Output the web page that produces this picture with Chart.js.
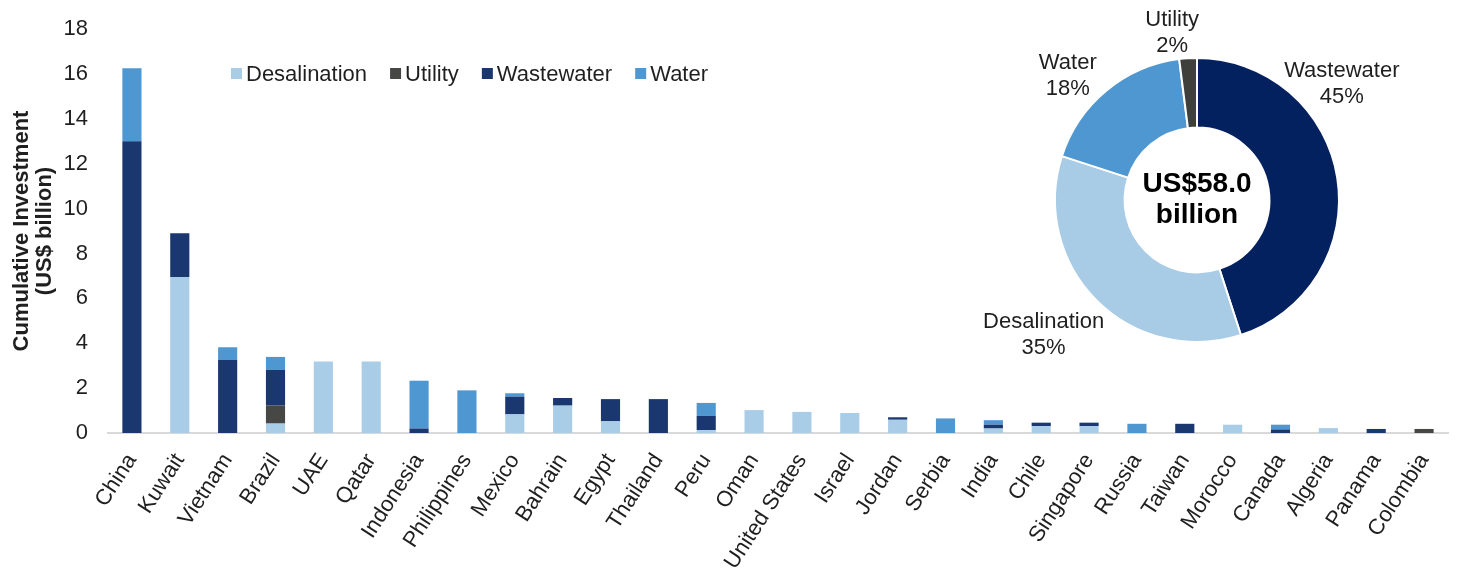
<!DOCTYPE html>
<html>
<head>
<meta charset="utf-8">
<script src="https://cdn.jsdelivr.net/npm/chart.js@4/dist/chart.umd.min.js"></script>
<style>
  html, body { margin: 0; padding: 0; background: #ffffff; }
  #wrap { position: relative; width: 1472px; height: 575px; overflow: hidden; }
  #bars { position: absolute; left: 0; top: 0; }
  #donut { position: absolute; left: 940px; top: 0; }
</style>
</head>
<body>
<div id="wrap">
  <canvas id="bars" width="1472" height="575"></canvas>
  <canvas id="donut" width="532" height="370"></canvas>
</div>
<script>
// Cumulative investment by country, US$ billion
const countries = ['China', 'Kuwait', 'Vietnam', 'Brazil', 'UAE', 'Qatar', 'Indonesia', 'Philippines',
  'Mexico', 'Bahrain', 'Egypt', 'Thailand', 'Peru', 'Oman', 'United States', 'Israel', 'Jordan',
  'Serbia', 'India', 'Chile', 'Singapore', 'Russia', 'Taiwan', 'Morocco', 'Canada', 'Algeria',
  'Panama', 'Colombia'];

const desalination = [0, 6.95, 0, 0.42, 3.19, 3.19, 0, 0, 0.83, 1.22, 0.52, 0, 0.13, 1.02, 0.94, 0.89,
  0.59, 0, 0.2, 0.31, 0.31, 0, 0, 0.37, 0, 0.22, 0, 0];
const utility = [0, 0, 0, 0.8, 0, 0, 0, 0, 0, 0, 0, 0, 0, 0, 0, 0,
  0, 0, 0, 0, 0, 0, 0, 0, 0, 0, 0, 0.18];
const wastewater = [13.0, 1.95, 3.25, 1.59, 0, 0, 0.2, 0, 0.79, 0.34, 0.99, 1.51, 0.63, 0, 0, 0,
  0.11, 0, 0.17, 0.15, 0.15, 0, 0.41, 0, 0.16, 0, 0.18, 0];
const water = [3.25, 0, 0.57, 0.58, 0, 0, 2.13, 1.9, 0.15, 0, 0, 0, 0.58, 0, 0, 0,
  0, 0.65, 0.2, 0, 0, 0.41, 0, 0, 0.21, 0, 0, 0];

const yTicks = [0, 2, 4, 6, 8, 10, 12, 14, 16, 18];

// Share of total investment by segment, percent
const segments = ['Wastewater', 'Desalination', 'Water', 'Utility'];
const segmentShare = [45, 35, 18, 2];
const totalLabel = ['US$58.0', 'billion'];

const FONT = "'Liberation Sans', Arial, sans-serif";
const TEXT = '#1f1f1f';

// Legend row drawn above the bars
const topLegend = {
  id: 'topLegend',
  afterDraw(chart) {
    const ctx = chart.ctx;
    ctx.save();
    ctx.font = '22px ' + FONT;
    ctx.textBaseline = 'middle';
    ctx.textAlign = 'left';
    let x = 231;
    const y = 75;
    chart.data.datasets.forEach(ds => {
      ctx.fillStyle = ds.backgroundColor;
      ctx.fillRect(x, y - 7, 11, 11);
      x += 15;
      ctx.fillStyle = TEXT;
      ctx.fillText(ds.label, x, y);
      x += ctx.measureText(ds.label).width + 23;
    });
    ctx.restore();
  }
};

new Chart(document.getElementById('bars'), {
  type: 'bar',
  data: {
    labels: countries,
    datasets: [
      { label: 'Desalination', data: desalination, backgroundColor: '#A9CCE7' },
      { label: 'Utility', data: utility, backgroundColor: '#474745' },
      { label: 'Wastewater', data: wastewater, backgroundColor: '#1B376F' },
      { label: 'Water', data: water, backgroundColor: '#4F97D1' }
    ]
  },
  options: {
    responsive: false,
    animation: false,
    events: [],
    layout: { padding: { top: 29, right: 24, left: 0, bottom: 0 } },
    datasets: { bar: { barPercentage: 0.4, categoryPercentage: 1, borderWidth: 0 } },
    plugins: { legend: { display: false }, tooltip: { enabled: false } },
    scales: {
      x: {
        stacked: true,
        grid: { display: false },
        border: { display: true, color: '#d9d9d9', width: 2 },
        ticks: {
          color: TEXT, font: { family: FONT, size: 22 },
          minRotation: 57, maxRotation: 57, autoSkip: false, padding: 8
        },
        afterFit(scale) { scale.height = 142; }
      },
      y: {
        stacked: true,
        min: 0, max: 18,
        grid: { display: false },
        border: { display: false },
        afterBuildTicks(scale) { scale.ticks = yTicks.map(v => ({ value: v })); },
        ticks: { color: TEXT, font: { family: FONT, size: 22 }, padding: 12 },
        title: {
          display: true,
          text: ['Cumulative Investment', '(US$ billion)'],
          color: TEXT,
          font: { family: FONT, size: 22, weight: 'bold', lineHeight: 1.05 },
          padding: { top: 10, bottom: 0 }
        },
        afterFit(scale) { scale.width = 108; }
      }
    }
  },
  plugins: [topLegend]
});

// Segment labels and the total in the ring's hole
const ringLabels = {
  id: 'ringLabels',
  afterDraw(chart) {
    const ctx = chart.ctx;
    const arc = chart.getDatasetMeta(0).data[0];
    const cx = arc.x, cy = arc.y, r = arc.outerRadius;
    const place = chart.options.plugins.ringLabels.place;
    ctx.save();
    ctx.textAlign = 'center';
    ctx.textBaseline = 'middle';
    ctx.fillStyle = TEXT;
    ctx.font = '22px ' + FONT;
    chart.data.labels.forEach((name, i) => {
      const p = place[i];
      const x = cx + p[0] * r, y = cy + p[1] * r;
      ctx.fillText(name, x, y - 13);
      ctx.fillText(chart.data.datasets[0].data[i] + '%', x, y + 13);
    });
    ctx.fillStyle = '#000000';
    ctx.font = 'bold 28px ' + FONT;
    ctx.fillText(totalLabel[0], cx, cy - 16);
    ctx.fillText(totalLabel[1], cx, cy + 15);
    ctx.restore();
  }
};

new Chart(document.getElementById('donut'), {
  type: 'doughnut',
  data: {
    labels: segments,
    datasets: [{
      data: segmentShare,
      backgroundColor: ['#03215F', '#A8CBE6', '#4F97D0', '#3F3F3C'],
      borderColor: '#ffffff',
      borderWidth: 2
    }]
  },
  options: {
    responsive: false,
    animation: false,
    events: [],
    cutout: '51%',
    layout: { padding: { left: 114, right: 132, top: 57, bottom: 27 } },
    plugins: {
      legend: { display: false },
      tooltip: { enabled: false },
      ringLabels: { place: [[1.02, -0.82], [-1.08, 0.95], [-0.91, -0.875], [-0.175, -1.18]] }
    }
  },
  plugins: [ringLabels]
});
</script>
</body>
</html>
